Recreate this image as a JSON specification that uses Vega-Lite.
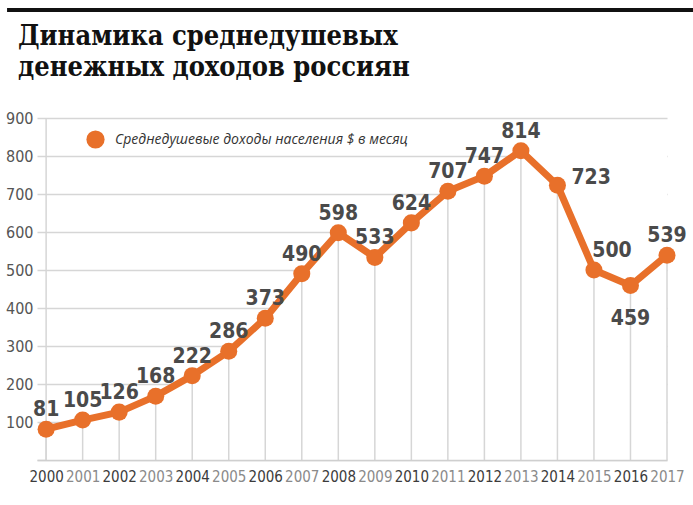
{
  "$schema": "https://vega.github.io/schema/vega-lite/v6.json",
  "autosize": {"type": "none"},
  "width": 630,
  "height": 342,
  "padding": {"left": 37, "top": 118, "right": 26, "bottom": 45},
  "background": "white",
  "config": {"view": {"stroke": null}},
  "title": {
    "text": ["Динамика среднедушевых", "денежных доходов россиян"],
    "anchor": "start",
    "frame": "group",
    "font": "DejaVu Serif Condensed, DejaVu Serif",
    "fontSize": 27,
    "fontWeight": "bold",
    "color": "#111111",
    "lineHeight": 31,
    "offset": -74,
    "dx": -19
  },
  "data": {
    "values": [
      {"year": 2000, "value": 81},
      {"year": 2001, "value": 105},
      {"year": 2002, "value": 126},
      {"year": 2003, "value": 168},
      {"year": 2004, "value": 222},
      {"year": 2005, "value": 286},
      {"year": 2006, "value": 373},
      {"year": 2007, "value": 490},
      {"year": 2008, "value": 598},
      {"year": 2009, "value": 533},
      {"year": 2010, "value": 624},
      {"year": 2011, "value": 707},
      {"year": 2012, "value": 747},
      {"year": 2013, "value": 814},
      {"year": 2014, "value": 723},
      {"year": 2015, "value": 500},
      {"year": 2016, "value": 459},
      {"year": 2017, "value": 539}
    ]
  },
  "encoding": {
    "x": {
      "field": "year",
      "type": "quantitative",
      "scale": {"domain": [1999.75, 2017], "nice": false, "zero": false},
      "axis": {
        "title": null,
        "values": [2000,2001,2002,2003,2004,2005,2006,2007,2008,2009,2010,2011,2012,2013,2014,2015,2016,2017],
        "format": "d",
        "grid": false,
        "ticks": false,
        "domain": true,
        "domainColor": "#cfcfcf",
        "domainWidth": 1.5,
        "labelFont": "DejaVu Sans Condensed",
        "labelFontSize": 15,
        "labelPadding": 9,
        "labelOverlap": false,
        "labelFlush": false,
        "labelColor": {"condition": {"test": "datum.value % 2 == 1", "value": "#8a8a8a"}, "value": "#3c3c3c"},
        "zindex": 1
      }
    },
    "y": {
      "field": "value",
      "type": "quantitative",
      "scale": {"domain": [0, 900], "nice": false},
      "axis": {
        "title": null,
        "values": [0,100,200,300,400,500,600,700,800,900],
        "labelExpr": "datum.value == 0 ? '' : datum.label",
        "grid": true,
        "gridColor": "#d6d6d6",
        "gridWidth": 1.5,
        "ticks": false,
        "domain": false,
        "labelFont": "DejaVu Sans Condensed",
        "labelFontSize": 16,
        "labelColor": "#555555",
        "labelPadding": 4
      }
    }
  },
  "layer": [
    {
      "mark": {"type": "area", "color": "white", "opacity": 1},
      "encoding": {"y2": {"datum": 0}}
    },
    {
      "transform": [{"filter": "datum.year >= 2008 && datum.year <= 2010"}],
      "mark": {"type": "area", "color": "white", "opacity": 1},
      "encoding": {"y2": {"datum": 612}}
    },
    {
      "transform": [{"filter": "datum.year >= 2013"}],
      "mark": {"type": "area", "color": "white", "opacity": 1},
      "encoding": {"y2": {"datum": 860}}
    },
    {
      "mark": {"type": "rule", "color": "#d6d6d6", "strokeWidth": 1.5},
      "encoding": {"y2": {"datum": 0}}
    },
    {
      "transform": [{"filter": "datum.year == 2000"}],
      "mark": {"type": "rule", "color": "#d6d6d6", "strokeWidth": 1.5},
      "encoding": {"y": {"datum": 0}, "y2": {"datum": 900}}
    },
    {
      "transform": [{"filter": "datum.year == 2000"}],
      "mark": {"type": "rule", "color": "#111111", "strokeWidth": 4},
      "encoding": {"x": {"datum": 1998.93}, "x2": {"datum": 2017.75}, "y": {"datum": 1184}}
    },
    {
      "mark": {"type": "line", "color": "#E8702A", "strokeWidth": 7, "strokeJoin": "round"}
    },
    {
      "mark": {"type": "point", "filled": true, "opacity": 1, "size": 290, "strokeWidth": 0},
      "encoding": {
        "color": {
          "datum": "Среднедушевые доходы населения $ в месяц",
          "scale": {"range": ["#E8702A"]},
          "legend": {
            "title": null,
            "orient": "none",
            "legendX": 49,
            "legendY": 12,
            "symbolType": "circle",
            "symbolSize": 330,
            "symbolStrokeWidth": 0,
            "labelFont": "Open Sans",
            "labelFontStyle": "italic",
            "labelFontSize": 14,
            "labelColor": "#333333",
            "labelOffset": 10,
            "labelLimit": 500
          }
        }
      }
    },
    {
      "transform": [{"filter": "datum.year != 2014 && datum.year != 2015 && datum.year != 2016"}],
      "mark": {"type": "text", "font": "DejaVu Sans Condensed", "fontSize": 21, "fontWeight": "bold", "color": "#4a4a4a", "align": "center", "baseline": "alphabetic", "dy": -13},
      "encoding": {"text": {"field": "value"}}
    },
    {
      "transform": [{"filter": "datum.year == 2014"}],
      "mark": {"type": "text", "font": "DejaVu Sans Condensed", "fontSize": 21, "fontWeight": "bold", "color": "#4a4a4a", "align": "left", "baseline": "middle", "dx": 14, "dy": -7},
      "encoding": {"text": {"field": "value"}}
    },
    {
      "transform": [{"filter": "datum.year == 2015"}],
      "mark": {"type": "text", "font": "DejaVu Sans Condensed", "fontSize": 21, "fontWeight": "bold", "color": "#4a4a4a", "align": "center", "baseline": "alphabetic", "dx": 18, "dy": -13},
      "encoding": {"text": {"field": "value"}}
    },
    {
      "transform": [{"filter": "datum.year == 2016"}],
      "mark": {"type": "text", "font": "DejaVu Sans Condensed", "fontSize": 21, "fontWeight": "bold", "color": "#4a4a4a", "align": "center", "baseline": "top", "dy": 22},
      "encoding": {"text": {"field": "value"}}
    }
  ]
}
